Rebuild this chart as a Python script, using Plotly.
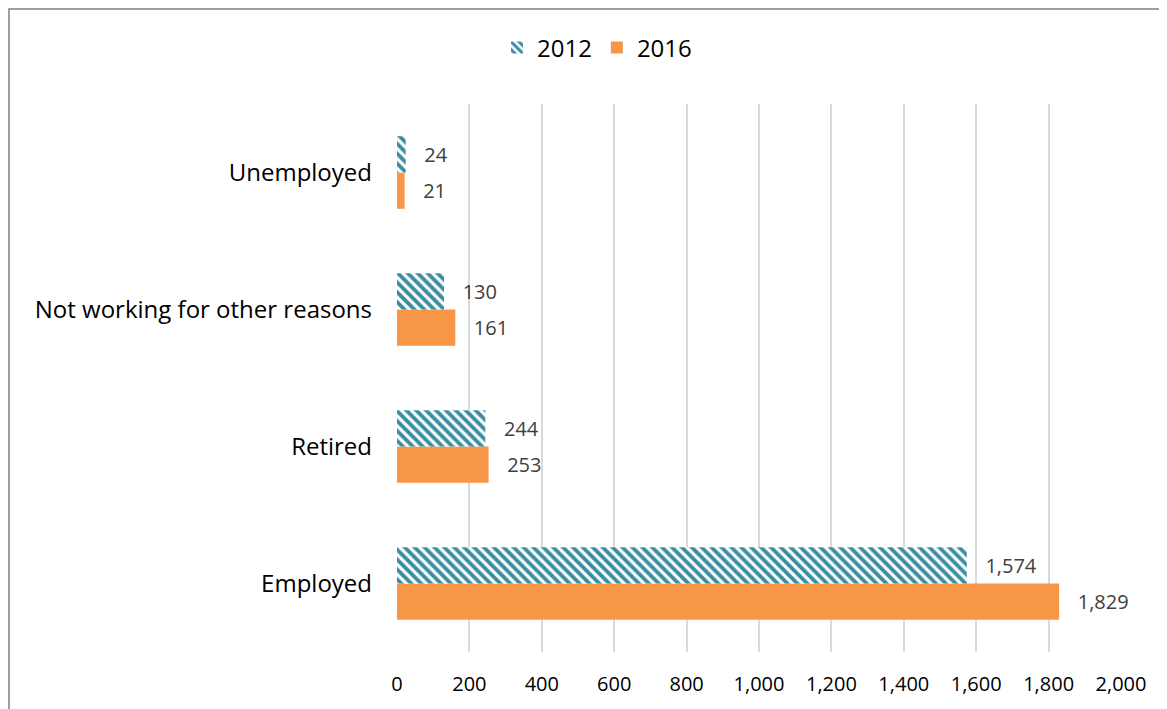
import plotly.graph_objects as go

categories = ["Employed", "Retired", "Not working for other reasons", "Unemployed"]
values_2012 = [1574, 244, 130, 24]
values_2016 = [1829, 253, 161, 21]
x_ticks = [0, 200, 400, 600, 800, 1000, 1200, 1400, 1600, 1800, 2000]

teal = "#3A8EA1"
orange = "#F79646"
pad = "\u00a0\u00a0\u00a0"

fig = go.Figure()

# 2016 first so that 2012 sits on top inside each group
fig.add_trace(go.Bar(
    y=categories, x=values_2016, name="2016", orientation="h",
    marker=dict(color=orange, line=dict(width=0)),
    text=[pad + f"{v:,}" for v in values_2016], textposition="outside",
    textfont=dict(size=20, color="#404040"), cliponaxis=False,
))
fig.add_trace(go.Bar(
    y=categories, x=values_2012, name="2012", orientation="h",
    marker=dict(color="white", line=dict(width=0),
                pattern=dict(shape="\\", fgcolor=teal, bgcolor="white",
                             fgopacity=1, size=7, solidity=0.55)),
    text=[pad + f"{v:,}" for v in values_2012], textposition="outside",
    textfont=dict(size=20, color="#404040"), cliponaxis=False,
))

# page body has an 8px margin, so margins are shifted by 8px
fig.update_layout(
    width=1167, height=709,
    margin=dict(l=389, r=54, t=96, b=65),
    paper_bgcolor="white", plot_bgcolor="white",
    font=dict(family="Open Sans, sans-serif", color="#000000"),
    barmode="group", bargap=0.47, bargroupgap=0,
    legend=dict(orientation="h", x=589 / 1167, xanchor="center", xref="container",
                y=1 - 40 / 709, yanchor="middle", yref="container",
                traceorder="reversed", font=dict(size=24)),
    xaxis=dict(range=[0, 2000], tickvals=x_ticks,
               ticktext=[f"{v:,}" for v in x_ticks],
               showgrid=True, gridcolor="#d9d9d9", gridwidth=1.5,
               zeroline=False, showline=False,
               tickfont=dict(size=20), ticks="", ticklabelstandoff=18),
    yaxis=dict(showgrid=False, showline=False, ticks="",
               tickfont=dict(size=24), automargin=False, ticklabelstandoff=24),
    shapes=[dict(type="rect", xref="paper", yref="paper",
                 x0=-388 / 724, x1=1.2, y0=-0.2, y1=1 + 95 / 548,
                 line=dict(color="#7f7f7f", width=1.5))],
)

fig.write_html("out.html")
